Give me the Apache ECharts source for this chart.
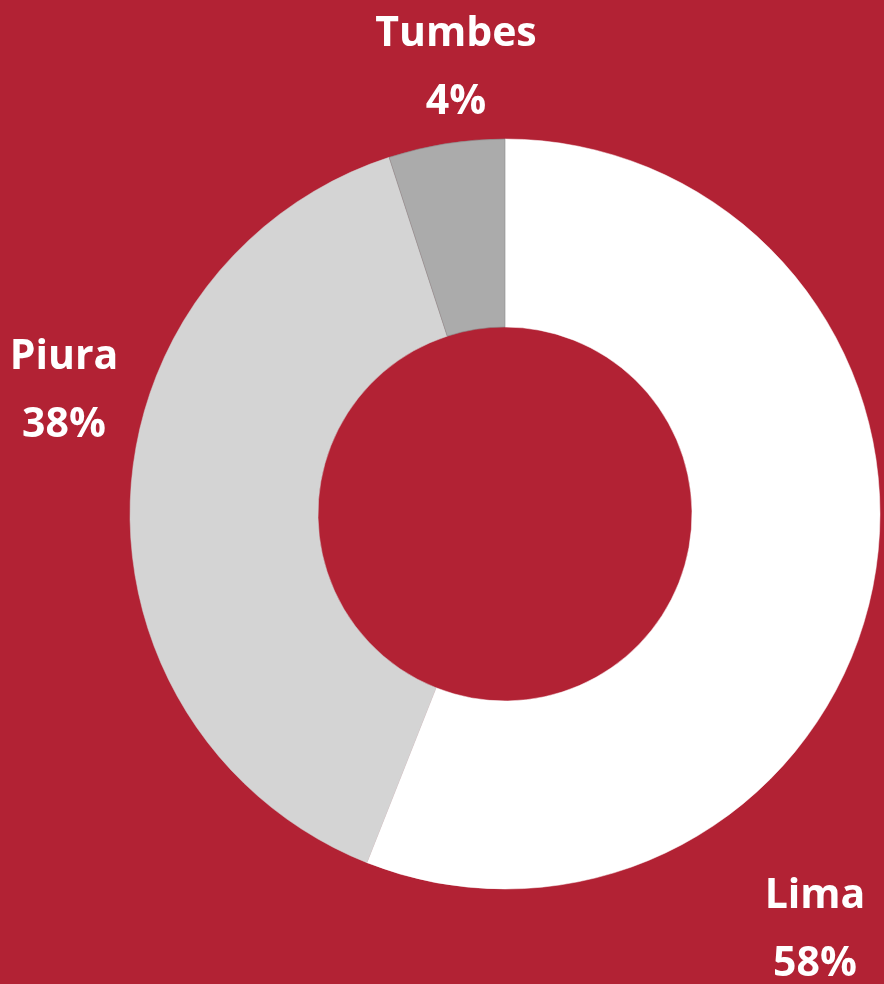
<!DOCTYPE html>
<html>
<head>
<meta charset="utf-8">
<script src="https://cdn.jsdelivr.net/npm/echarts@6/dist/echarts.min.js"></script>
<style>
  html, body { margin: 0; padding: 0; background: #b22234; }
  #chart { width: 884px; height: 984px; }
</style>
</head>
<body>
<div id="chart"></div>
<script>
// regions and their share of the ring (slice sizes)
const regions = ['Lima', 'Piura', 'Tumbes'];
const shares = [56, 39, 5];
// percentages as printed on the labels
const shareLabels = ['58%', '38%', '4%'];
const sliceColors = ['#ffffff', '#d4d4d4', '#ababab'];

// where each label block sits (centre of the two lines)
const labelSpots = [
  [815, 930],
  [64, 391],
  [456, 68],
];

const chart = echarts.init(document.getElementById('chart'), null, { renderer: 'canvas' });

const option = {
  backgroundColor: '#b22234',
  animation: false,
  series: [
    {
      type: 'pie',
      center: [505, 514],
      radius: [187, 375],
      startAngle: 90,
      clockwise: true,
      emphasis: { disabled: true },
      avoidLabelOverlap: false,
      labelLine: { show: false },
      label: {
        show: true,
        position: 'outside',
        alignTo: 'none',
        overflow: 'none',
        color: '#ffffff',
        fontFamily: 'Open Sans',
        fontWeight: 'bold',
        fontSize: 41,
        lineHeight: 68,
        align: 'center',
        formatter: (p) => `${p.name}\n${shareLabels[p.dataIndex]}`,
      },
      labelLayout(params) {
        const spot = labelSpots[params.dataIndex];
        return {
          x: spot[0],
          y: spot[1],
          align: 'center',
          verticalAlign: 'middle',
          hideOverlap: false,
        };
      },
      data: regions.map((name, i) => ({
        name,
        value: shares[i],
        itemStyle: {
          color: sliceColors[i],
          borderColor: i === 2 ? '#8c8c8c' : sliceColors[i],
          borderWidth: i === 2 ? 0.6 : 0.5,
        },
      })),
    },
  ],
};

chart.setOption(option);
</script>
</body>
</html>
